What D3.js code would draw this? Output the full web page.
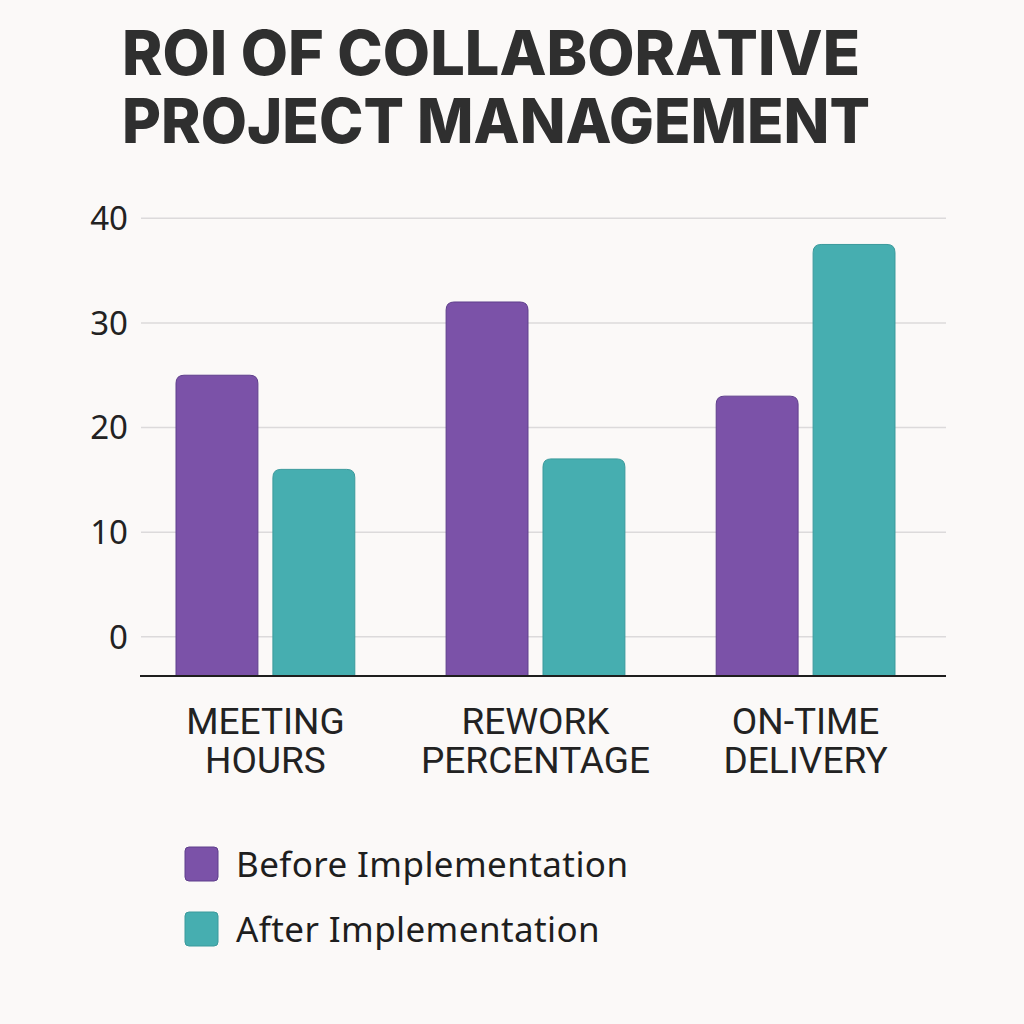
<!DOCTYPE html>
<html>
<head>
<meta charset="utf-8">
<script src="https://cdn.jsdelivr.net/npm/d3@7"></script>
<style>
  html, body { margin: 0; padding: 0; background: #fbf9f8; }
  svg { display: block; }
</style>
</head>
<body>
<svg id="chart"></svg>
<script>
// data
const categories = [['MEETING', 'HOURS'], ['REWORK', 'PERCENTAGE'], ['ON-TIME', 'DELIVERY']];
const seriesNames = ['Before Implementation', 'After Implementation'];
const beforeValues = [25, 32, 23];
const afterValues = [16, 17, 37.5];
const yTicks = [0, 10, 20, 30, 40];
const titleLines = ['ROI OF COLLABORATIVE', 'PROJECT MANAGEMENT'];

const colors = ['#7b52a8', '#46aeb0'];
const strokes = ['#5f3f8c', '#3b9a9c'];

const s = {
  width: 1024,
  height: 1024,
};

const catKeys = categories.map(c => c.join(' '));
const rows = catKeys.map((k, i) => ({ key: k, lines: categories[i], values: [beforeValues[i], afterValues[i]] }));

const svg = d3.select('#chart')
    .attr('width', s.width)
    .attr('height', s.height);

svg.append('rect')
    .attr('width', s.width)
    .attr('height', s.height)
    .attr('fill', '#fbf9f8');

// title
svg.append('g')
  .selectAll('text')
  .data(titleLines)
  .join('text')
    .attr('x', 122)
    .attr('y', (d, i) => 75 + i * 68)
    .attr('font-family', 'Inter, "Liberation Sans", sans-serif')
    .attr('font-weight', 800)
    .attr('font-size', 62)
    .attr('fill', '#2f2f2f')
    .attr('textLength', (d, i) => i === 0 ? 738 : 748)
    .attr('lengthAdjust', 'spacingAndGlyphs')
    .text(d => d);

// scales
const y = d3.scaleLinear().domain([-3.75, 40]).range([676, 218.3]);
const x0 = d3.scaleBand().domain(catKeys).range([176, 895]).paddingInner(0.338).paddingOuter(0);
const x1 = d3.scaleBand().domain(seriesNames).range([0, x0.bandwidth()]).paddingInner(0.155);

const gridLeft = 141, gridRight = 946;

// gridlines
svg.append('g')
  .selectAll('line')
  .data(yTicks)
  .join('line')
    .attr('x1', gridLeft)
    .attr('x2', gridRight)
    .attr('y1', d => y(d))
    .attr('y2', d => y(d))
    .attr('stroke', '#dcdadb')
    .attr('stroke-width', 1.5);

// y labels
svg.append('g')
  .selectAll('text')
  .data(yTicks)
  .join('text')
    .attr('x', 128)
    .attr('y', d => y(d))
    .attr('dy', '0.36em')
    .attr('text-anchor', 'end')
    .attr('font-family', '"Noto Sans", sans-serif')
    .attr('font-size', 33)
    .attr('fill', '#222')
    .text(d => d);

// bars with rounded tops
function topRounded(x, yTop, w, yBottom, r) {
  const rr = Math.min(r, w / 2, (yBottom - yTop) / 2);
  return `M${x},${yBottom}V${yTop + rr}Q${x},${yTop} ${x + rr},${yTop}` +
         `H${x + w - rr}Q${x + w},${yTop} ${x + w},${yTop + rr}V${yBottom}Z`;
}

const groups = svg.append('g')
  .selectAll('g')
  .data(rows)
  .join('g')
    .attr('transform', d => `translate(${x0(d.key)},0)`);

groups.selectAll('path')
  .data(d => d.values.map((v, i) => ({ name: seriesNames[i], value: v, idx: i })))
  .join('path')
    .attr('d', d => topRounded(x1(d.name), y(d.value), x1.bandwidth(), y(-3.75), 8))
    .attr('fill', d => colors[d.idx])
    .attr('stroke', d => strokes[d.idx])
    .attr('stroke-width', 1);

// baseline
svg.append('line')
    .attr('x1', gridLeft - 1)
    .attr('x2', gridRight)
    .attr('y1', y(-3.75))
    .attr('y2', y(-3.75))
    .attr('stroke', '#1e1e1e')
    .attr('stroke-width', 2);

// category labels
const catLabels = svg.append('g')
  .selectAll('text')
  .data(rows)
  .join('text')
    .attr('x', d => x0(d.key) + x0.bandwidth() / 2)
    .attr('y', 734)
    .attr('text-anchor', 'middle')
    .attr('font-family', 'Roboto, sans-serif')
    .attr('font-weight', 400)
    .attr('font-size', 37)
    .attr('fill', '#222');

catLabels.selectAll('tspan')
  .data(d => d.lines)
  .join('tspan')
    .attr('x', function() { return d3.select(this.parentNode).attr('x'); })
    .attr('dy', (d, i) => i === 0 ? 0 : 39)
    .text(d => d);

// legend
const legend = svg.append('g')
  .selectAll('g')
  .data(seriesNames)
  .join('g')
    .attr('transform', (d, i) => `translate(185,${847 + i * 65})`);

legend.append('rect')
    .attr('width', 33)
    .attr('height', 34)
    .attr('rx', 4)
    .attr('fill', (d, i) => colors[i])
    .attr('stroke', (d, i) => strokes[i])
    .attr('stroke-width', 1);

legend.append('text')
    .attr('x', 51)
    .attr('y', 17)
    .attr('dy', '0.36em')
    .attr('font-family', '"Noto Sans", sans-serif')
    .attr('font-size', 35)
    .attr('letter-spacing', 0.4)
    .attr('fill', '#1e1e1e')
    .text(d => d);
</script>
</body>
</html>
